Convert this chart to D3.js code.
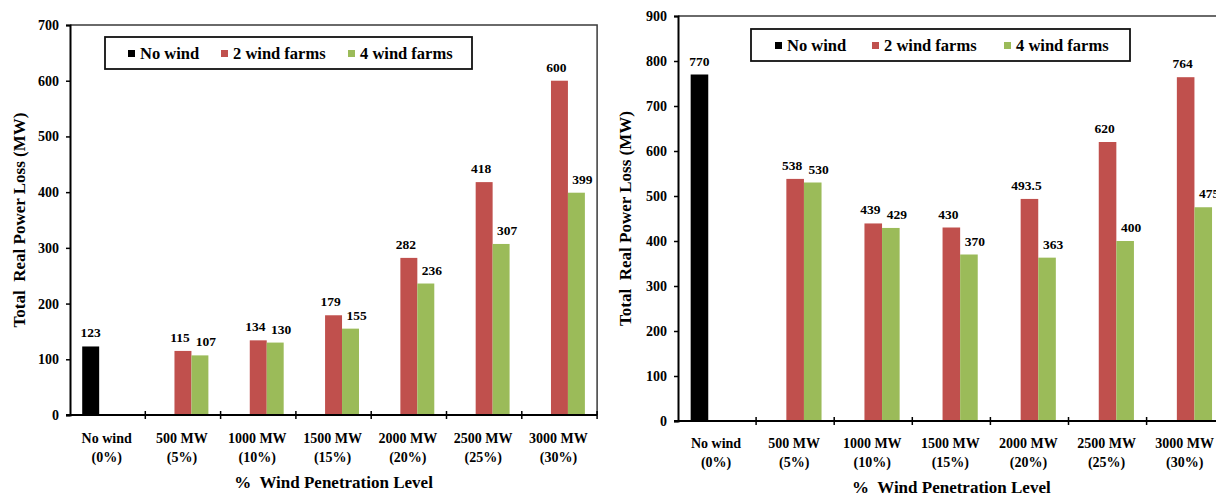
<!DOCTYPE html>
<html>
<head>
<meta charset="utf-8">
<script src="https://cdn.jsdelivr.net/npm/d3@7"></script>
<style>
  body { margin: 0; background: #fff; }
  svg text { font-family: "Liberation Serif", "Times New Roman", serif; font-weight: bold; fill: #000; }
</style>
</head>
<body>
<svg id="chart" width="1216" height="498"></svg>
<script>
// categories (two lines each)
const catTop = ["No wind", "500 MW", "1000 MW", "1500 MW", "2000 MW", "2500 MW", "3000 MW"];
const catBottom = ["(0%)", "(5%)", "(10%)", "(15%)", "(20%)", "(25%)", "(30%)"];
const seriesNames = ["No wind", "2 wind farms", "4 wind farms"];
const seriesColors = ["#000000", "#C0504D", "#9BBB59"];

// left panel values
const noWindA = [123, null, null, null, null, null, null];
const twoFarmsA = [null, 115, 134, 179, 282, 418, 600];
const fourFarmsA = [null, 107, 130, 155, 236, 307, 399];
const ticksA = [0, 100, 200, 300, 400, 500, 600, 700];

// right panel values
const noWindB = [770, null, null, null, null, null, null];
const twoFarmsB = [null, 538, 439, 430, 493.5, 620, 764];
const fourFarmsB = [null, 530, 429, 370, 363, 400, 475];
const ticksB = [0, 100, 200, 300, 400, 500, 600, 700, 800, 900];

const svg = d3.select("#chart");

function drawPanel(opt) {
    const g = svg.append("g");
    const series = [opt.s0, opt.s1, opt.s2];

    const x = d3.scaleBand()
        .domain(d3.range(catTop.length))
        .range([opt.left, opt.left + opt.catW * catTop.length])
        .padding(0);

    const xs = d3.scaleBand()
        .domain(d3.range(3))
        .range([0, x.bandwidth()])
        .paddingInner(0)
        .paddingOuter(0.72);

    const y = d3.scaleLinear()
        .domain([0, d3.max(opt.ticks)])
        .range([opt.bottom, opt.top]);

    // plot area border (top + right)
    g.append("path")
        .attr("d", "M" + opt.left + "," + opt.top + "H" + x.range()[1] + "V" + opt.bottom)
        .attr("fill", "none")
        .attr("stroke", "#3a3a3a")
        .attr("stroke-width", 1.5);

    // bars
    series.forEach(function(vals, si) {
        g.append("g")
            .selectAll("rect")
            .data(vals.map((v, i) => ({ v: v, i: i })).filter(d => d.v != null))
            .enter()
            .append("rect")
            .attr("x", d => x(d.i) + xs(si))
            .attr("width", xs.bandwidth())
            .attr("y", d => y(d.v))
            .attr("height", d => y(0) - y(d.v))
            .attr("fill", seriesColors[si]);

        // value labels
        const dx = [0, -3, 6][si];
        g.append("g")
            .selectAll("text")
            .data(vals.map((v, i) => ({ v: v, i: i })).filter(d => d.v != null))
            .enter()
            .append("text")
            .attr("x", d => x(d.i) + xs(si) + xs.bandwidth() / 2 + dx)
            .attr("y", d => y(d.v) - 9)
            .attr("text-anchor", "middle")
            .style("font-size", "13.5px")
            .text(d => String(d.v));
    });

    // y axis
    const yAxis = g.append("g")
        .attr("transform", "translate(" + opt.left + ",0)")
        .call(d3.axisLeft(y).tickValues(opt.ticks).tickSize(4).tickPadding(7).tickFormat(d3.format("d")));
    yAxis.select(".domain").attr("stroke", "#000").attr("stroke-width", 2);
    yAxis.selectAll(".tick line").attr("stroke-width", 1.5);
    yAxis.selectAll("text").style("font-size", "14px");

    // x axis line + boundary ticks
    g.append("line")
        .attr("x1", opt.left - 4).attr("x2", x.range()[1])
        .attr("y1", y(0)).attr("y2", y(0))
        .attr("stroke", "#000").attr("stroke-width", 2);
    g.append("g")
        .selectAll("line")
        .data(d3.range(1, catTop.length + 1))
        .enter()
        .append("line")
        .attr("x1", d => opt.left + d * x.step())
        .attr("x2", d => opt.left + d * x.step())
        .attr("y1", y(0) - 4)
        .attr("y2", y(0) + 4)
        .attr("stroke", "#000")
        .attr("stroke-width", 1.5);

    // category labels
    const cl = g.append("g")
        .selectAll("text")
        .data(d3.range(catTop.length))
        .enter()
        .append("text")
        .attr("text-anchor", "middle")
        .style("font-size", "14px");
    cl.append("tspan")
        .attr("x", d => x(d) + x.bandwidth() / 2 - 1)
        .attr("y", opt.catY)
        .text(d => catTop[d]);
    cl.append("tspan")
        .attr("x", d => x(d) + x.bandwidth() / 2 - 1)
        .attr("y", opt.catY + 19)
        .text(d => catBottom[d]);

    // axis titles
    g.append("text")
        .attr("x", (opt.left + x.range()[1]) / 2)
        .attr("y", opt.titleY)
        .attr("text-anchor", "middle")
        .style("font-size", "17px")
        .style("white-space", "pre")
        .text("%  Wind Penetration Level");

    g.append("text")
        .attr("transform", "translate(" + opt.yTitleX + "," + ((opt.top + opt.bottom) / 2) + ") rotate(-90)")
        .attr("text-anchor", "middle")
        .style("font-size", "17px")
        .style("white-space", "pre")
        .text("Total  Real Power Loss (MW)");

    // legend
    const lg = g.append("g");
    lg.append("rect")
        .attr("x", opt.legX).attr("y", opt.legY)
        .attr("width", opt.legW).attr("height", 32)
        .attr("fill", "#fff")
        .attr("stroke", "#111")
        .attr("stroke-width", 1.8);
    seriesNames.forEach(function(name, si) {
        const lx = opt.legX + opt.legItems[si];
        lg.append("rect")
            .attr("x", lx).attr("y", opt.legY + 13)
            .attr("width", 7).attr("height", 7)
            .attr("fill", seriesColors[si]);
        lg.append("text")
            .attr("x", lx + 12)
            .attr("y", opt.legY + 22)
            .style("font-size", "16.5px")
            .text(name);
    });
}

drawPanel({
    s0: noWindA, s1: twoFarmsA, s2: fourFarmsA, ticks: ticksA,
    left: 70, catW: 75.3, top: 25, bottom: 415,
    catY: 443, titleY: 488, yTitleX: 25,
    legX: 105, legY: 37, legW: 367, legItems: [23, 116, 243]
});

drawPanel({
    s0: noWindB, s1: twoFarmsB, s2: fourFarmsB, ticks: ticksB,
    left: 678, catW: 78.1, top: 16, bottom: 421,
    catY: 448, titleY: 493, yTitleX: 631,
    legX: 751, legY: 29, legW: 379, legItems: [24, 121, 253]
});
</script>
</body>
</html>
